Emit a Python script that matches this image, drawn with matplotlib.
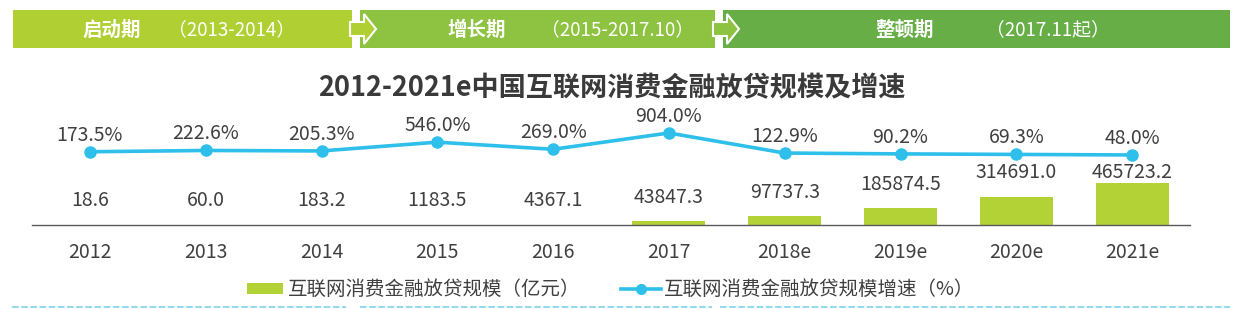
import matplotlib
matplotlib.use("Agg")
import matplotlib.pyplot as plt
from matplotlib.patches import Rectangle, Polygon
from matplotlib.lines import Line2D

plt.rcParams['font.family'] = ['Noto Sans CJK SC', 'DejaVu Sans']

# ---- data ----
years = ["2012", "2013", "2014", "2015", "2016", "2017", "2018e", "2019e", "2020e", "2021e"]
loan_scale = [18.6, 60.0, 183.2, 1183.5, 4367.1, 43847.3, 97737.3, 185874.5, 314691.0, 465723.2]
growth_rate = [173.5, 222.6, 205.3, 546.0, 269.0, 904.0, 122.9, 90.2, 69.3, 48.0]
stage_names = ["启动期", "增长期", "整顿期"]
stage_periods = ["（2013-2014）", "（2015-2017.10）", "（2017.11起）"]
title = "2012-2021e中国互联网消费金融放贷规模及增速"
legend_bar = "互联网消费金融放贷规模（亿元）"
legend_line = "互联网消费金融放贷规模增速（%）"

W, H = 1235, 309
fig = plt.figure(figsize=(W / 100, H / 100), dpi=100)
fig.patch.set_facecolor("white")


def fx(px):
    return px / W


def fy(py):
    return 1 - py / H


TEXT = "#404040"
BAR_C = "#B2D235"
LINE_C = "#2EC0EA"

# ---- banner ----
stage_colors = ["#B0CF32", "#8DC340", "#66AE45"]
stage_spans = [(13, 352), (360, 715), (723, 1230)]
name_x = [112, 477, 905]
period_x = [232, 618, 1048]
for (x0, x1), c, nm, pr, nx, px in zip(stage_spans, stage_colors, stage_names, stage_periods, name_x, period_x):
    fig.patches.append(Rectangle((fx(x0), fy(48)), fx(x1 - x0), 38 / H, transform=fig.transFigure,
                                 facecolor=c, edgecolor="none"))
    fig.text(fx(nx), fy(30), nm, color="white", fontsize=14, fontweight="bold", ha="center", va="center")
    fig.text(fx(px), fy(30), pr, color="white", fontsize=13.5, ha="center", va="center")

# arrows between stages
for (xa, ca) in [(352, stage_colors[0]), (715, stage_colors[1])]:
    pts = [(xa - 2, 22), (xa + 12, 22), (xa + 12, 14), (xa + 24, 29), (xa + 12, 44), (xa + 12, 36), (xa - 2, 36)]
    fig.patches.append(Polygon([(fx(a), fy(b)) for a, b in pts], closed=True, transform=fig.transFigure,
                               facecolor=ca, edgecolor="white", linewidth=1.5))

# ---- title ----
fig.text(fx(612), fy(88), title, color="#3A3A3A", fontsize=19.5, fontweight="bold", ha="center", va="center")

# ---- main axes ----
AX_H = 125
ax = fig.add_axes([fx(32), fy(225), (1190 - 32) / W, AX_H / H])
x = list(range(len(years)))
ymax = 465723.2 * AX_H / 42
ax.bar(x, loan_scale, width=0.63, color=BAR_C, zorder=2)
ax.set_ylim(0, ymax)
ax.set_xlim(-0.5, len(years) - 0.5)
for s in ["top", "left", "right"]:
    ax.spines[s].set_visible(False)
ax.spines["bottom"].set_color("#595959")
ax.spines["bottom"].set_linewidth(1.0)
ax.set_yticks([])
ax.set_xticks(x)
ax.set_xticklabels(years, fontsize=14, color=TEXT)
ax.tick_params(axis="x", length=0, pad=12)
ax.patch.set_alpha(0)
# bar value labels: above the bar, but kept below the growth line
for i, v in enumerate(loan_scale):
    bar_px = v / ymax * AX_H
    label_px = min(bar_px + 24, 53)
    ax.annotate(f"{v:.1f}", (i, 0), xytext=(0, label_px * 0.72), textcoords="offset points",
                ha="center", va="center", fontsize=14, color=TEXT)

ax2 = ax.twinx()
ax2.set_ylim(-2677, 2187)
ax2.plot(x, growth_rate, color=LINE_C, linewidth=2.6, marker="o", markersize=8, zorder=3)
ax2.set_yticks([])
for s in ax2.spines.values():
    s.set_visible(False)
for i, v in enumerate(growth_rate):
    ax2.annotate(f"{v:.1f}%", (i, v), xytext=(0, 12), textcoords="offset points",
                 ha="center", va="center", fontsize=14, color=TEXT)

# ---- legend ----
fig.patches.append(Rectangle((fx(247), fy(294)), fx(36), 11 / H, transform=fig.transFigure,
                             facecolor=BAR_C, edgecolor="none"))
fig.text(fx(288), fy(289), legend_bar, color=TEXT, fontsize=14, ha="left", va="center")
fig.lines.append(Line2D([fx(621), fx(661)], [fy(289), fy(289)], transform=fig.transFigure,
                        color=LINE_C, linewidth=2.6))
fig.lines.append(Line2D([fx(641)], [fy(289)], transform=fig.transFigure,
                        color=LINE_C, marker="o", markersize=7, linestyle="none"))
fig.text(fx(664), fy(289), legend_line, color=TEXT, fontsize=14, ha="left", va="center")

# ---- bottom dashed borders ----
for x0, x1 in [(12, 346), (360, 712), (720, 1230)]:
    fig.lines.append(Line2D([fx(x0), fx(x1)], [fy(307), fy(307)], transform=fig.transFigure,
                            color="#7FD3EA", linewidth=1.2, linestyle=(0, (4, 1.5))))

fig.savefig("out.png", dpi=100)
